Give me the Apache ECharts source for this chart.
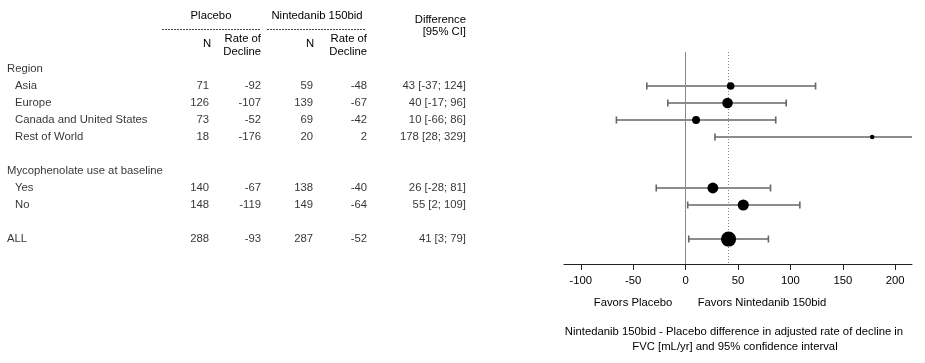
<!DOCTYPE html>
<html>
<head>
<meta charset="utf-8">
<script src="https://cdn.jsdelivr.net/npm/echarts@6/dist/echarts.min.js"></script>
<style>
html,body{margin:0;padding:0;background:#fff;}
#chart{width:925px;height:363px;}
</style>
</head>
<body>
<div id="chart"></div>
<script>
const groupTitles = ['Region', 'Mycophenolate use at baseline'];
const subgroups = ['Asia', 'Europe', 'Canada and United States', 'Rest of World', 'Yes', 'No', 'ALL'];
const groupOf = [0, 0, 0, 0, 1, 1, null];
const placeboN = [71, 126, 73, 18, 140, 148, 288];
const placeboRate = [-92, -107, -52, -176, -67, -119, -93];
const nintN = [59, 139, 69, 20, 138, 149, 287];
const nintRate = [-48, -67, -42, 2, -40, -64, -52];
const diffEst = [43, 40, 10, 178, 26, 55, 41];
const diffLow = [-37, -17, -66, 28, -28, 2, 3];
const diffHigh = [124, 96, 86, 329, 81, 109, 79];
const xTicks = [-100, -50, 0, 50, 100, 150, 200];

const FONT = "'Liberation Sans', Arial, sans-serif";
const FS = 11.3;
const TXT = '#000';

// row layout
const itemRow = [];
const titleRows = [];
let r = 0, prev;
subgroups.forEach((s, i) => {
  const g = groupOf[i];
  if (i === 0 || g !== prev) {
    if (i > 0) r++;
    if (g !== null) { titleRows.push({ row: r, text: groupTitles[g] }); r++; }
    prev = g;
  }
  itemRow[i] = r; r++;
});

const Y_MIN = -1, Y_MAX = 11.47;
const X_MIN = -116, X_MAX = 216;

function labelSeries(points, align) {
  return {
    type: 'scatter', xAxisIndex: 0, yAxisIndex: 0, symbolSize: 0, silent: true,
    data: points,
    label: {
      show: true, position: align === 'right' ? 'left' : 'right', distance: 0,
      formatter: p => p.value[2], fontFamily: FONT, fontSize: FS, color: TXT
    }
  };
}

const leftLabels = [];
titleRows.forEach(t => leftLabels.push([7, t.row, t.text]));
subgroups.forEach((s, i) => leftLabels.push([groupOf[i] === null ? 7 : 15, itemRow[i], s]));

const colPN = subgroups.map((s, i) => [209, itemRow[i], String(placeboN[i])]);
const colPR = subgroups.map((s, i) => [261, itemRow[i], String(placeboRate[i])]);
const colNN = subgroups.map((s, i) => [313, itemRow[i], String(nintN[i])]);
const colNR = subgroups.map((s, i) => [367, itemRow[i], String(nintRate[i])]);
const colD = subgroups.map((s, i) => [466, itemRow[i], diffEst[i] + ' [' + diffLow[i] + '; ' + diffHigh[i] + ']']);

const errData = subgroups.map((s, i) => [diffLow[i], diffHigh[i], itemRow[i]]);
const dotData = subgroups.map((s, i) => [diffEst[i], itemRow[i], placeboN[i] + nintN[i]]);

function txt(x, y, text, align) {
  return { type: 'text', x: x, y: y, silent: true,
    style: { text: text, fill: TXT, font: FS + 'px ' + FONT, align: align || 'left', verticalAlign: 'middle' } };
}

const chart = echarts.init(document.getElementById('chart'), null, { renderer: 'canvas' });
chart.setOption({
  animation: false,
  backgroundColor: '#fff',
  grid: [
    { left: 0, width: 480, top: 52, height: 212 },
    { left: 564, right: 13, top: 52, height: 212 }
  ],
  xAxis: [
    { gridIndex: 0, type: 'value', min: 0, max: 480, show: false },
    { gridIndex: 1, type: 'value', min: X_MIN, max: X_MAX, position: 'bottom',
      axisLine: { show: true, onZero: false, lineStyle: { color: '#222', width: 1 } },
      axisTick: { show: true, length: 6, customValues: xTicks, lineStyle: { color: '#222' } },
      axisLabel: { show: true, customValues: xTicks, margin: 11, color: TXT, fontFamily: FONT, fontSize: FS },
      splitLine: { show: false } }
  ],
  yAxis: [
    { gridIndex: 0, type: 'value', min: Y_MIN, max: Y_MAX, inverse: true, show: false },
    { gridIndex: 1, type: 'value', min: Y_MIN, max: Y_MAX, inverse: true, show: false,
      axisLine: { onZero: false } }
  ],
  graphic: [
    txt(211, 16, 'Placebo', 'center'),
    txt(317, 16, 'Nintedanib 150bid', 'center'),
    { type: 'line', silent: true, shape: { x1: 162, y1: 29.5, x2: 260, y2: 29.5 }, style: { stroke: '#444', lineWidth: 1, lineDash: [2, 1] } },
    { type: 'line', silent: true, shape: { x1: 267, y1: 29.5, x2: 365, y2: 29.5 }, style: { stroke: '#444', lineWidth: 1, lineDash: [2, 1] } },
    txt(207, 44, 'N', 'center'),
    txt(261, 39, 'Rate of', 'right'),
    txt(261, 52, 'Decline', 'right'),
    txt(310, 44, 'N', 'center'),
    txt(367, 39, 'Rate of', 'right'),
    txt(367, 52, 'Decline', 'right'),
    txt(466, 20, 'Difference', 'right'),
    txt(466, 32, '[95% CI]', 'right'),
    txt(633, 303, 'Favors Placebo', 'center'),
    txt(762, 303, 'Favors Nintedanib 150bid', 'center'),
    txt(734, 332, 'Nintedanib 150bid - Placebo difference in adjusted rate of decline in', 'center'),
    txt(735, 347, 'FVC [mL/yr] and 95% confidence interval', 'center')
  ],
  series: [
    labelSeries(leftLabels, 'left'),
    labelSeries(colPN, 'right'),
    labelSeries(colPR, 'right'),
    labelSeries(colNN, 'right'),
    labelSeries(colNR, 'right'),
    labelSeries(colD, 'right'),
    {
      type: 'custom', xAxisIndex: 1, yAxisIndex: 1, silent: true, z: 3,
      data: errData,
      renderItem: function (params, api) {
        const cs = params.coordSys;
        const y = api.coord([0, api.value(2)])[1];
        let x1 = api.coord([api.value(0), 0])[0];
        let x2 = api.coord([api.value(1), 0])[0];
        const xl = cs.x, xr = cs.x + cs.width;
        const children = [];
        const st = { stroke: '#666', lineWidth: 1.6 };
        const cx1 = Math.max(x1, xl), cx2 = Math.min(x2, xr);
        children.push({ type: 'line', shape: { x1: cx1, y1: y, x2: cx2, y2: y }, style: st });
        if (x1 >= xl) children.push({ type: 'line', shape: { x1: x1, y1: y - 3.5, x2: x1, y2: y + 3.5 }, style: st });
        if (x2 <= xr) children.push({ type: 'line', shape: { x1: x2, y1: y - 3.5, x2: x2, y2: y + 3.5 }, style: st });
        return { type: 'group', children: children };
      },
      markLine: {
        silent: true, symbol: 'none', label: { show: false },
        data: [
          { xAxis: 0, lineStyle: { color: '#8a8a8a', type: 'solid', width: 1 } },
          { xAxis: diffEst[diffEst.length - 1], lineStyle: { color: '#8a8a8a', type: [1, 2], width: 1 } }
        ]
      }
    },
    {
      type: 'scatter', xAxisIndex: 1, yAxisIndex: 1, silent: true, z: 5,
      data: dotData,
      symbolSize: v => 0.6 * Math.sqrt(v[2]) + 0.8,
      itemStyle: { color: '#000', opacity: 1 }
    }
  ]
});
</script>
</body>
</html>
